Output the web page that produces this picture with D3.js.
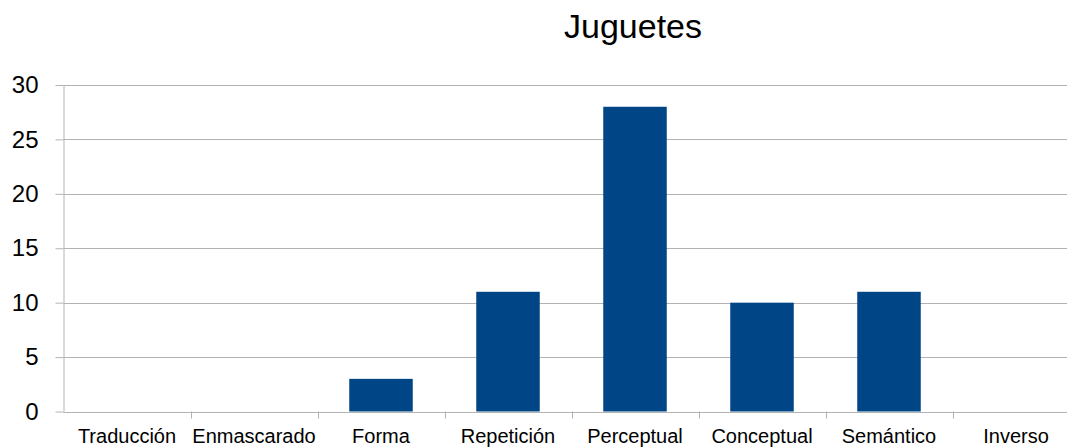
<!DOCTYPE html>
<html>
<head>
<meta charset="utf-8">
<script src="https://cdn.jsdelivr.net/npm/d3@7"></script>
<style>
  html, body { margin: 0; padding: 0; background: #fff; }
  svg { display: block; font-family: "Liberation Sans", Arial, sans-serif; }
</style>
</head>
<body>
<svg id="chart" width="1067" height="447"></svg>
<script>
const title = "Juguetes";
const categories = ["Traducción", "Enmascarado", "Forma", "Repetición", "Perceptual", "Conceptual", "Semántico", "Inverso"];
const values = [0, 0, 3, 11, 28, 10, 11, 0];
const yTicks = [0, 5, 10, 15, 20, 25, 30];

const svg = d3.select("#chart");
const plot = { left: 63.5, right: 1079.5, top: 85, bottom: 411.5 };
const gridColor = "#b3b3b3";
const barColor = "#004586";

const x = d3.scaleBand().domain(categories).range([plot.left, plot.right])
  .paddingInner(0.5).paddingOuter(0.25);
const y = d3.scaleLinear().domain([0, 30]).range([plot.bottom, plot.top]);

// horizontal gridlines
svg.append("g").selectAll("line").data(yTicks).join("line")
  .attr("x1", plot.left).attr("x2", plot.right)
  .attr("y1", d => Math.round(y(d)) + 0.5).attr("y2", d => Math.round(y(d)) + 0.5)
  .attr("stroke", gridColor).attr("stroke-width", 1);

// bars
svg.append("g").selectAll("rect").data(categories).join("rect")
  .attr("x", d => x(d))
  .attr("width", x.bandwidth())
  .attr("y", (d, i) => y(values[i]))
  .attr("height", (d, i) => plot.bottom - y(values[i]))
  .attr("fill", barColor);

// y axis
const yAxis = d3.axisLeft(y).tickValues(yTicks).tickSize(8).tickPadding(17);
const gy = svg.append("g").attr("transform", `translate(${plot.left},0)`).call(yAxis);
gy.select(".domain").attr("stroke", gridColor).attr("d", `M0.5,${plot.top}V${plot.bottom}`);
gy.selectAll(".tick line").attr("stroke", gridColor);
gy.selectAll(".tick text").attr("font-size", 24).attr("fill", "#000")
  .attr("font-family", "Liberation Sans, Arial, sans-serif");

// x axis with ticks between categories
const step = x.step();
const boundaries = d3.range(1, categories.length).map(i => plot.left + i * step);
const gx = svg.append("g");
gx.append("line").attr("x1", plot.left).attr("x2", plot.right)
  .attr("y1", Math.round(plot.bottom) + 0.5).attr("y2", Math.round(plot.bottom) + 0.5)
  .attr("stroke", gridColor);
gx.selectAll("line.tk").data(boundaries).join("line").attr("class", "tk")
  .attr("x1", d => Math.round(d) + 0.5).attr("x2", d => Math.round(d) + 0.5)
  .attr("y1", plot.bottom).attr("y2", plot.bottom + 7)
  .attr("stroke", gridColor);
gx.selectAll("text").data(categories).join("text")
  .attr("x", d => x(d) + x.bandwidth() / 2)
  .attr("y", 443)
  .attr("text-anchor", "middle")
  .attr("font-size", 20)
  .attr("fill", "#000")
  .text(d => d);

// title
svg.append("text").attr("x", 633).attr("y", 38)
  .attr("text-anchor", "middle").attr("font-size", 34).attr("fill", "#000")
  .text(title);
</script>
</body>
</html>
